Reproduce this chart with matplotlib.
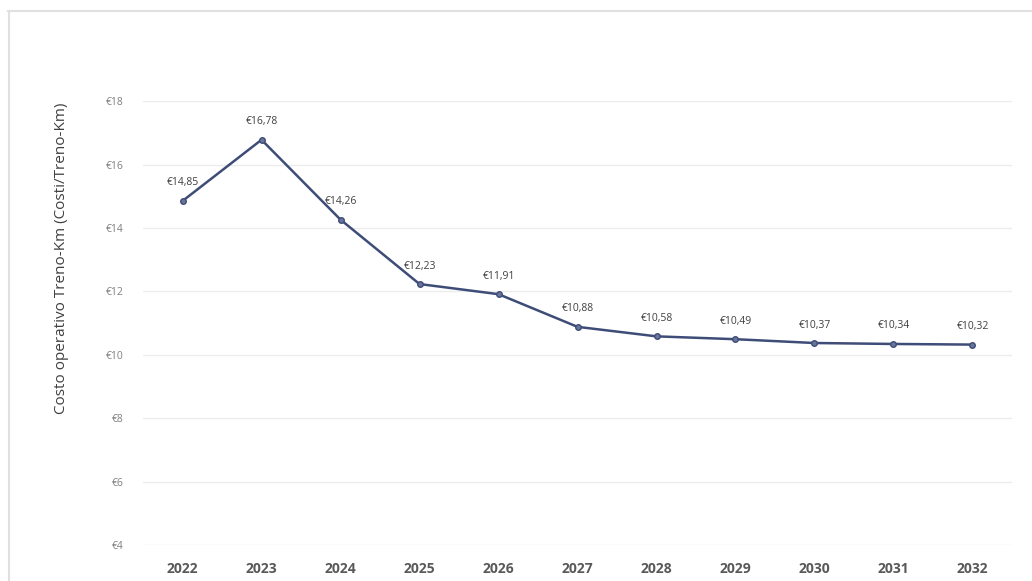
import matplotlib.pyplot as plt
from matplotlib.lines import Line2D

# data
years = ['2022', '2023', '2024', '2025', '2026', '2027', '2028', '2029', '2030', '2031', '2032']
costs = [14.85, 16.78, 14.26, 12.23, 11.91, 10.88, 10.58, 10.49, 10.37, 10.34, 10.32]
y_ticks = [4, 6, 8, 10, 12, 14, 16, 18]

plt.rcParams['font.family'] = ['Open Sans', 'DejaVu Sans']

fig = plt.figure(figsize=(10.32, 5.81), dpi=100)
ax = fig.add_axes([0.1386, 0.062, 0.842, 0.764])

x = list(range(len(years)))
ax.plot(x, costs, color='#3e4c78', linewidth=1.8, marker='o', markersize=4,
        markerfacecolor='#68769a', markeredgecolor='#3e4c78', zorder=3)

for xi, v in zip(x, costs):
    label = '€' + f'{v:.2f}'.replace('.', ',')
    ax.annotate(label, (xi, v), xytext=(0, 9), textcoords='offset points',
                ha='center', va='bottom', fontsize=7.5, color='#404040')

ax.set_xlim(-0.5, len(years) - 0.5)
ax.set_ylim(4, 18)
ax.set_xticks(x)
ax.set_xticklabels(years, fontsize=10, fontweight='bold', color='#595959')
ax.set_yticks(y_ticks)
ax.set_yticklabels(['€' + str(t) for t in y_ticks], fontsize=7.5, color='#7f7f7f')
ax.tick_params(axis='both', length=0)
ax.tick_params(axis='x', pad=12)
ax.tick_params(axis='y', pad=14)
ax.grid(axis='y', color='#ececec', linewidth=1)
ax.set_axisbelow(True)
for s in ax.spines.values():
    s.set_visible(False)

fig.text(0.06, 0.555, 'Costo operativo Treno-Km (Costi/Treno-Km)', rotation=90,
         ha='center', va='center', fontsize=11, color='#404040')

# faint frame on top and left edge
fig.add_artist(Line2D([0.008, 1.0], [0.981, 0.981], transform=fig.transFigure,
                      color='#e0e0e0', linewidth=1.5))
fig.add_artist(Line2D([0.009, 0.009], [0.0, 0.981], transform=fig.transFigure,
                      color='#e0e0e0', linewidth=1.5))

fig.savefig('out.png', dpi=100)
